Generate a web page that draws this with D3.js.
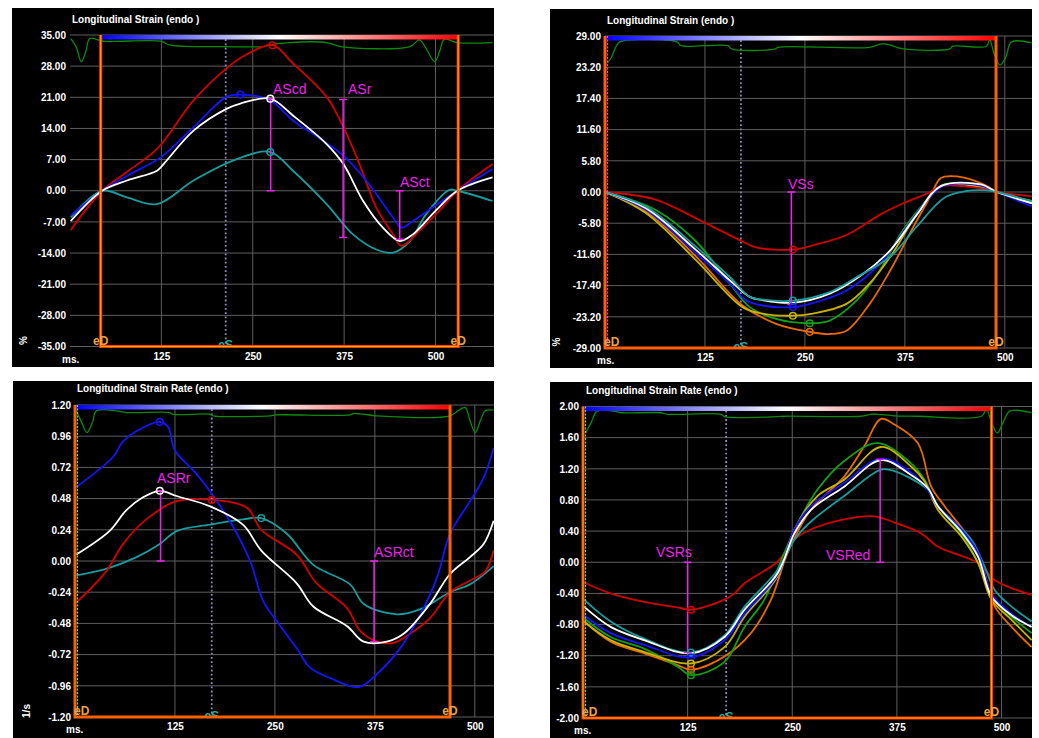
<!DOCTYPE html>
<html><head><meta charset="utf-8">
<script src="https://cdn.jsdelivr.net/npm/d3@7"></script>
<style>
body{margin:0;background:#fff;}
svg{display:block;}
text{font-family:"Liberation Sans",Arial,sans-serif;}
</style>
</head><body>
<svg id="c" width="1039" height="738"></svg>
<script>
// ---------- shared tick labels ----------
const xTicks = [125, 250, 375, 500];
const p1YTicks = [35, 28, 21, 14, 7, 0, -7, -14, -21, -28, -35];
const p2YTicks = [29, 23.2, 17.4, 11.6, 5.8, 0, -5.8, -11.6, -17.4, -23.2, -29];
const p3YTicks = [1.2, 0.96, 0.72, 0.48, 0.24, 0, -0.24, -0.48, -0.72, -0.96, -1.2];
const p4YTicks = [2, 1.6, 1.2, 0.8, 0.4, 0, -0.4, -0.8, -1.2, -1.6, -2];

// ---------- Panel 1: Longitudinal Strain (atrial) ----------
const p1Red = [[1,-8.8],[44,0],[80,4.5],[119,9.4],[169,20.3],[214,27.5],[240,30.5],[277,32.7],[305,28.6],[351,21.1],[374,14.3],[396,6],[419,-3.8],[442,-9.8],[453,-12.4],[478,-9],[505,-4.5],[530,0],[578,6]];
const p1Blue = [[1,-5.6],[44,0],[80,3.5],[124,7.5],[169,14.3],[214,21.1],[233,21.6],[274,20.3],[305,15.8],[342,11.7],[374,7.9],[405,2.3],[442,-6],[453,-8.3],[469,-6.8],[500,-3.3],[530,0],[578,4.9]];
const p1White = [[1,-6.8],[44,0],[78,2.3],[119,4.5],[128,6],[169,13.5],[214,18.4],[233,19.6],[274,20.7],[305,16.9],[351,10.5],[374,6],[401,-2.3],[428,-8.3],[451,-11.3],[469,-9.8],[500,-4.5],[530,0],[578,3]];
const p1Teal = [[1,-6],[44,0],[78,-1.5],[119,-3],[169,2.3],[228,7.1],[274,8.7],[305,4.5],[351,-3],[387,-9.8],[419,-13.2],[442,-13.9],[465,-11.3],[487,-5.3],[519,0.2],[530,0],[578,-2.3]];
const p1Ecg = [[1,34.2],[8,32.5],[15.5,29],[22,31.5],[27,34.2],[46,33.6],[124,33.6],[137,32.7],[214,32.4],[264,32.4],[270,32.7],[300,33.3],[351,33.3],[370,32.4],[465,32.4],[478,33.9],[487,32],[499,29],[506,31.5],[512,34],[530,33.3],[578,33.3]];
const p1Markers = [["red",277,32.7],["blue",233,21.6],["teal",274,8.7],["white",274,20.7]];
const p1Notes = [["AScd",274.5,20.7,0],["ASr",373.6,20.5,-10.5],["ASct",451,0,-10.9]];

// ---------- Panel 2: Longitudinal Strain (ventricular) ----------
const p2Red = [[0,0],[63,-1.4],[122,-5.5],[172,-9.2],[189,-10.3],[235,-10.7],[260,-9.9],[302,-8],[344,-4.2],[373,-2.1],[407,0],[420,1.1],[470,0.7],[490,0],[534,-0.8]];
const p2Blue = [[0,0],[51,-3.3],[114,-11.4],[156,-17],[176,-20.1],[197,-21.1],[235,-21.4],[256,-20.8],[302,-18.3],[344,-13.3],[378,-6.4],[407,-0.8],[424,1.2],[470,1.2],[490,0],[534,-2.7]];
const p2White = [[0,0],[51,-3],[114,-10.8],[156,-16.4],[181,-19.5],[197,-20.1],[235,-20.6],[281,-18.9],[323,-15.2],[357,-10.8],[390,-4.2],[420,1.1],[470,1.4],[490,0],[534,-2.1]];
const p2Teal = [[0,0],[51,-2.7],[114,-10.2],[156,-15.8],[181,-19.5],[197,-20],[235,-20.2],[281,-18.6],[315,-15.8],[357,-12],[390,-6.4],[424,-1.1],[449,0.1],[478,0.3],[490,0],[534,-1.7]];
const p2Green = [[0,0],[63,-3.3],[114,-9.2],[156,-17],[181,-21.4],[214,-23.6],[256,-24.4],[281,-23.9],[315,-20.1],[344,-14.5],[373,-7],[407,-0.8],[424,1.4],[470,1.1],[490,0],[534,-2.1]];
const p2Yellow = [[0,0],[51,-3.9],[114,-12.7],[172,-21.4],[197,-22.6],[235,-23],[260,-22.6],[302,-20.8],[331,-17],[357,-12],[390,-4.2],[420,1.1],[470,0.9],[490,0],[534,-1.7]];
const p2Orange = [[0,0],[51,-3.6],[114,-12],[172,-21.1],[214,-24.5],[256,-26],[281,-26.4],[302,-25.8],[331,-20.8],[357,-14.5],[386,-6.4],[407,-0.8],[420,2.6],[440,2.9],[474,1.4],[490,0],[534,-1.7]];
const p2Ecg = [[2.9,24],[8,25],[13,26.8],[18.75,27.9],[90,27.9],[95,27.2],[154,27.2],[158,26.6],[213,26.6],[216,26.9],[331,26.9],[344,27.5],[352,27.5],[373,26.6],[431,26.6],[435,27.1],[477,27.1],[481,28.3],[487,25.5],[494,23.6],[501,25],[508.5,27.9],[533.5,27.7]];
const p2Markers = [["red",235,-10.7],["teal",235,-20.2],["blue",235,-21.4],["yellow",235,-23],["green",256,-24.4],["orange",256,-26]];
const p2Notes = [["VSs",233,0,-20.9]];

// ---------- Panel 3: Longitudinal Strain Rate (atrial) ----------
const p3Blue = [[1.7,0.57],[47.6,0.8],[60,0.92],[77,1.0],[106,1.07],[116.5,1.03],[125,0.85],[152,0.67],[173,0.5],[198,0.26],[219,0],[235.5,-0.31],[252,-0.46],[277,-0.67],[294,-0.82],[319,-0.9],[354.5,-0.97],[377.5,-0.87],[406.7,-0.67],[432,-0.41],[452.6,-0.13],[469,0.21],[494,0.46],[511,0.64],[523.6,0.87]];
const p3White = [[1.7,0.05],[43,0.23],[64,0.39],[85,0.49],[106,0.54],[127,0.5],[169,0.42],[210,0.28],[233,0.08],[277,-0.17],[298,-0.35],[340,-0.5],[361,-0.62],[390,-0.62],[411,-0.56],[444,-0.33],[469,-0.1],[494,0.03],[511,0.13],[523.6,0.31]];
const p3Red = [[1.7,-0.32],[39,-0.08],[60,0.13],[89,0.32],[127,0.46],[171,0.47],[215,0.41],[233,0.24],[277,0.05],[302,-0.17],[340,-0.36],[357,-0.54],[377.5,-0.62],[398,-0.63],[419,-0.56],[444,-0.44],[469,-0.24],[494,-0.15],[513,-0.08],[523.6,0.08]];
const p3Teal = [[1.7,-0.11],[39,-0.06],[77,0.03],[106,0.13],[127,0.23],[169,0.28],[210,0.32],[233,0.33],[265,0.21],[298,-0.03],[344,-0.18],[361,-0.33],[402.5,-0.41],[432,-0.37],[469,-0.24],[494,-0.18],[523.6,-0.04]];
const p3Ecg = [[1.7,1.155],[8,1.07],[15,0.988],[22,1.07],[26.7,1.155],[51.8,1.155],[64.3,1.142],[118.6,1.142],[122,1.129],[168.7,1.129],[172.9,1.117],[243.8,1.117],[252,1.124],[344,1.124],[348,1.134],[360,1.13],[377.5,1.117],[469,1.117],[480,1.16],[488,1.18],[494,1.08],[500.6,0.988],[507,1.08],[513,1.155],[523.6,1.16]];
const p3Markers = [["blue",106,1.07],["white",106,0.54],["red",171,0.47],["teal",233,0.33]];
const p3Notes = [["ASRr",107,0.54,0],["ASRct",374,0,-0.62]];

// ---------- Panel 4: Longitudinal Strain Rate (ventricular) ----------
const p4Red = [[1.2,-0.26],[33,-0.4],[73,-0.51],[113,-0.58],[129,-0.61],[169,-0.48],[181,-0.4],[193,-0.27],[232.5,0.01],[252.5,0.29],[272,0.42],[312,0.55],[348,0.59],[372,0.51],[404,0.37],[424,0.2],[472,-0.01],[492,-0.23],[536,-0.42]];
const p4Blue = [[1.2,-0.68],[33,-0.91],[73,-1.06],[129,-1.22],[169,-1.0],[193,-0.66],[232.5,-0.16],[252.5,0.42],[272,0.72],[312,1.02],[356,1.33],[392,1.15],[412,0.93],[424,0.72],[452,0.42],[472,0.12],[488,-0.4],[512,-0.66],[536,-0.83]];
const p4White = [[1.2,-0.57],[33,-0.83],[73,-1.0],[129,-1.17],[169,-0.96],[193,-0.61],[232.5,-0.14],[252.5,0.37],[272,0.67],[312,0.97],[356,1.31],[392,1.12],[412,0.95],[424,0.72],[452,0.39],[472,0.07],[488,-0.44],[512,-0.68],[536,-0.83]];
const p4Teal = [[1.2,-0.48],[33,-0.76],[73,-0.98],[129,-1.16],[169,-0.94],[193,-0.57],[232.5,-0.1],[252.5,0.29],[272,0.52],[312,0.85],[356,1.19],[372,1.17],[412,0.93],[424,0.72],[464,0.29],[480,-0.06],[492,-0.36],[512,-0.57],[536,-0.76]];
const p4Green = [[1.2,-0.72],[33,-0.96],[73,-1.11],[113,-1.34],[129,-1.45],[169,-1.28],[193,-0.83],[216.6,-0.48],[240.5,0.12],[256.5,0.5],[280,0.93],[312,1.3],[352,1.53],[392,1.27],[408,1.06],[424,0.72],[452,0.37],[472,-0.01],[488,-0.44],[512,-0.7],[536,-0.91]];
const p4Yellow = [[1.2,-0.76],[33,-1.0],[73,-1.15],[129,-1.3],[169,-1.09],[193,-0.7],[232.5,-0.18],[252.5,0.42],[280,0.85],[312,1.06],[356,1.48],[392,1.23],[408,1.04],[424,0.67],[452,0.33],[472,-0.01],[488,-0.48],[512,-0.74],[536,-1.0]];
const p4Orange = [[1.2,-0.76],[33,-1.02],[73,-1.17],[113,-1.32],[129,-1.38],[169,-1.21],[200.6,-0.91],[224.6,-0.48],[244.5,0.12],[272,0.67],[312,1.1],[336,1.49],[356,1.84],[372,1.77],[400,1.53],[416,0.97],[432,0.72],[460,0.33],[476,-0.01],[492,-0.57],[512,-0.83],[536,-1.09]];
const p4Ecg = [[3.2,1.66],[10,1.8],[17,1.94],[37,1.94],[45,1.92],[93,1.92],[101,1.9],[165,1.9],[169,1.87],[232.5,1.87],[240.5,1.875],[332,1.875],[344,1.9],[352,1.9],[372,1.88],[400,1.875],[476,1.875],[482,1.96],[488,1.8],[495,1.66],[502,1.8],[510,1.94],[536,1.92]];
const p4Markers = [["red",129,-0.61],["teal",129,-1.16],["blue",129,-1.22],["yellow",129,-1.3],["orange",129,-1.38],["green",129,-1.45]];
const p4Notes = [["VSRs",125,0,-1.16],["VSRed",355,1.32,0]];

// ---------- drawing ----------
const COLORS = {red:"#d40000", blue:"#1414ff", white:"#ffffff", teal:"#1a9c9c",
  green:"#14a014", yellow:"#c8b400", orange:"#e86a00"};
const MAG = "#f020f0";
const svg = d3.select("#c");

const defs = svg.append("defs");
const grad = defs.append("linearGradient").attr("id","cbar").attr("x1","0%").attr("x2","100%");
grad.append("stop").attr("offset","0%").attr("stop-color","#0000ff");
grad.append("stop").attr("offset","50%").attr("stop-color","#ffffff");
grad.append("stop").attr("offset","100%").attr("stop-color","#ff0000");

function drawPanel(c, id) {
  const g = svg.append("g");
  g.append("rect").attr("x",c.bx).attr("y",c.by).attr("width",c.bw).attr("height",c.bh).attr("fill","#000");
  const x = d3.scaleLinear().domain([0,c.xMax]).range([c.left,c.right]);
  const y = d3.scaleLinear().domain([c.yTicks[c.yTicks.length-1], c.yTicks[0]]).range([c.bottom,c.top]);

  // grid
  g.append("g").selectAll("line").data(c.yTicks).join("line")
    .attr("x1",c.left).attr("x2",c.right).attr("y1",d=>y(d)).attr("y2",d=>y(d))
    .attr("stroke","#5e5e5e").attr("stroke-width",1);
  g.append("g").selectAll("line").data(xTicks).join("line")
    .attr("x1",d=>x(d)).attr("x2",d=>x(d)).attr("y1",c.top).attr("y2",c.bottom)
    .attr("stroke","#5e5e5e").attr("stroke-width",1);

  // axes
  const ya = g.append("g").attr("transform",`translate(${c.left-3},0)`)
    .call(d3.axisLeft(y).tickValues(c.yTicks).tickSize(0).tickPadding(1).tickFormat(d=>d.toFixed(2)));
  ya.select(".domain").remove();
  ya.selectAll("text").attr("fill","#fff").attr("font-size",10).attr("font-weight","bold")
    .attr("font-family","Liberation Sans, Arial, sans-serif");
  const xa = g.append("g").attr("transform",`translate(0,${c.bottom+4})`)
    .call(d3.axisBottom(x).tickValues(xTicks).tickSize(0).tickPadding(2).tickFormat(d3.format("d")));
  xa.select(".domain").remove();
  xa.selectAll("text").attr("fill","#fff").attr("font-size",10).attr("font-weight","bold")
    .attr("font-family","Liberation Sans, Arial, sans-serif");
  g.append("text").attr("x",c.msX).attr("y",c.bottom+16).attr("fill","#fff")
    .attr("font-size",10).attr("font-weight","bold").text("ms.");
  if (c.unit) {
    g.append("text").attr("transform",`translate(${c.unitX},${c.bottom-6}) rotate(-90)`)
      .attr("text-anchor","middle").attr("fill","#fff").attr("font-size",10).attr("font-weight","bold").text(c.unit);
  }
  g.append("text").attr("x",c.titleX).attr("y",c.titleY).attr("fill","#fff")
    .attr("font-size",10).attr("font-weight","bold").text(c.title);

  // clip
  defs.append("clipPath").attr("id","clip"+id).append("rect")
    .attr("x",c.left).attr("y",c.top).attr("width",c.right-c.left).attr("height",c.bottom-c.top);
  const pg = g.append("g").attr("clip-path",`url(#clip${id})`);

  const line = d3.line().x(d=>x(d[0])).y(d=>y(d[1])).curve(d3.curveCatmullRom.alpha(0.5));

  // eS dotted line + label
  pg.append("line").attr("x1",x(c.eS)).attr("x2",x(c.eS)).attr("y1",c.top).attr("y2",c.bottom)
    .attr("stroke","#8a8ac0").attr("stroke-width",1.8).attr("stroke-dasharray","1.8,2.4");
  pg.append("text").attr("x",x(c.eS)).attr("y",c.bottom+2.5).attr("text-anchor","middle")
    .attr("fill","#1fb0b0").attr("font-size",12).attr("font-weight","bold").text("eS");

  // ECG trace
  pg.append("path").attr("d",line(c.ecg)).attr("fill","none").attr("stroke","#0c8a0c").attr("stroke-width",1.3);

  // series
  c.series.forEach(s => {
    pg.append("path").attr("d",line(s[1])).attr("fill","none")
      .attr("stroke",COLORS[s[0]]).attr("stroke-width",1.8);
  });

  // color bar
  pg.append("rect").attr("x",x(c.eDL)).attr("y",c.top).attr("width",x(c.eDR)-x(c.eDL)).attr("height",4.5)
    .attr("fill","url(#cbar)");

  // left marker line
  if (c.leftDot) {
    pg.append("line").attr("x1",x(c.eDL)+2.5).attr("x2",x(c.eDL)+2.5).attr("y1",c.top).attr("y2",c.bottom)
      .attr("stroke",c.leftDot).attr("stroke-width",1.2).attr("stroke-dasharray","2,1.5");
  }

  // eD frame
  const fr = g.append("g");
  const frameD = `M${x(c.eDL)},${c.top}V${c.bottom}H${x(c.eDR)}V${c.top}`;
  fr.append("path").attr("d",frameD).attr("fill","none").attr("stroke",c.inner ? "#ff3c00" : "#ff6000").attr("stroke-width",3);
  if (c.inner) fr.append("path").attr("d",frameD).attr("fill","none").attr("stroke","#ffc800").attr("stroke-width",0.8);
  [c.eDL, c.eDR].forEach((v,i) => {
    const atEdge = (i === 0 && x(v) - c.left < 8);
    g.append("text").attr("x",atEdge ? c.left - 1 : x(v)).attr("y",c.bottom-2)
      .attr("text-anchor",atEdge ? "start" : "middle")
      .attr("fill","#e8a24a").attr("font-size",12).attr("font-weight","bold").text("eD");
  });

  // annotations
  c.notes.forEach(n => {
    const xx = x(n[1]);
    g.append("line").attr("x1",xx).attr("x2",xx).attr("y1",y(n[2])).attr("y2",y(n[3]))
      .attr("stroke",MAG).attr("stroke-width",1.5);
    [n[2],n[3]].forEach(v => g.append("line").attr("x1",xx-4).attr("x2",xx+4)
      .attr("y1",y(v)).attr("y2",y(v)).attr("stroke",MAG).attr("stroke-width",1.5));
  });
  c.labels.forEach(l => {
    g.append("text").attr("x",l[1]).attr("y",l[2]).attr("text-anchor",l[3]||"start")
      .attr("fill",MAG).attr("font-size",14).text(l[0]);
  });

  // markers
  c.markers.forEach(m => {
    g.append("circle").attr("cx",x(m[1])).attr("cy",y(m[2])).attr("r",3.3)
      .attr("fill","none").attr("stroke",COLORS[m[0]]).attr("stroke-width",1.5);
  });
}

drawPanel({
  bx:12, by:8, bw:482, bh:359, left:70, right:494, top:35, bottom:346.5, xMax:580,
  yTicks:p1YTicks, title:"Longitudinal Strain (endo )", titleX:72, titleY:23, unit:"%", unitX:27, msX:62,
  eDL:42, eDR:531, eS:213, ecg:p1Ecg, inner:true,
  series:[["teal",p1Teal],["red",p1Red],["blue",p1Blue],["white",p1White]],
  markers:p1Markers, notes:p1Notes,
  labels:[["AScd",273,94],["ASr",348,94],["ASct",400,187]]
}, 1);

drawPanel({
  bx:550, by:9, bw:482, bh:359, left:605, right:1032, top:36, bottom:348, xMax:534,
  yTicks:p2YTicks, title:"Longitudinal Strain (endo )", titleX:607, titleY:24, unit:"%", unitX:560, msX:597,
  eDL:0, eDR:489, eS:170, ecg:p2Ecg, inner:false, leftDot:"#ff30ff",
  series:[["orange",p2Orange],["green",p2Green],["yellow",p2Yellow],["red",p2Red],["blue",p2Blue],["white",p2White],["teal",p2Teal]],
  markers:p2Markers, notes:p2Notes,
  labels:[["VSs",788,189]]
}, 2);

drawPanel({
  bx:13, by:381, bw:481, bh:357, left:75, right:494, top:405, bottom:717, xMax:524,
  yTicks:p3YTicks, title:"Longitudinal Strain Rate (endo )", titleX:77, titleY:392, unit:"1/s", unitX:30, msX:66,
  eDL:0, eDR:469, eS:171, ecg:p3Ecg, inner:false, leftDot:"#40e0c0",
  series:[["teal",p3Teal],["red",p3Red],["blue",p3Blue],["white",p3White]],
  markers:p3Markers, notes:p3Notes,
  labels:[["ASRr",157,483],["ASRct",374,557]]
}, 3);

drawPanel({
  bx:550, by:382, bw:482, bh:356, left:583, right:1032, top:406.5, bottom:718, xMax:536.4,
  yTicks:p4YTicks, title:"Longitudinal Strain Rate (endo )", titleX:586, titleY:394, unit:null, msX:574,
  eDL:0, eDR:488, eS:171, ecg:p4Ecg, inner:true, leftDot:"#40e0e0",
  series:[["red",p4Red],["orange",p4Orange],["green",p4Green],["yellow",p4Yellow],["teal",p4Teal],["blue",p4Blue],["white",p4White]],
  markers:p4Markers, notes:p4Notes,
  labels:[["VSRs",656,557],["VSRed",826,560]]
}, 4);
</script>
</body></html>
